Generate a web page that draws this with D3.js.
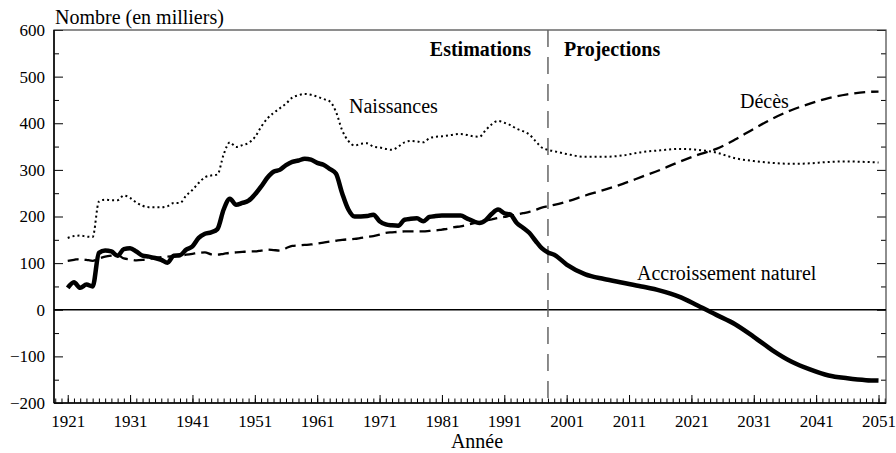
<!DOCTYPE html>
<html>
<head>
<meta charset="utf-8">
<script src="https://cdn.jsdelivr.net/npm/d3@7"></script>
<style>
  body { margin: 0; background: #fff; }
  svg text { font-family: "Liberation Serif", "Times New Roman", serif; fill: #000; }
</style>
</head>
<body>
<div id="chart"></div>
<script>
// Années (annuelles pour les estimations, plus espacées pour les projections)
const years = [
  1921, 1922, 1923, 1924, 1925, 1926, 1927, 1928, 1929, 1930,
  1931, 1932, 1933, 1934, 1935, 1936, 1937, 1938, 1939, 1940,
  1941, 1942, 1943, 1944, 1945, 1946, 1947, 1948, 1949, 1950,
  1951, 1952, 1953, 1954, 1955, 1956, 1957, 1958, 1959, 1960,
  1961, 1962, 1963, 1964, 1965, 1966, 1967, 1968, 1969, 1970,
  1971, 1972, 1973, 1974, 1975, 1976, 1977, 1978, 1979, 1980,
  1981, 1982, 1983, 1984, 1985, 1986, 1987, 1988, 1989, 1990,
  1991, 1992, 1993, 1994, 1995, 1996, 1997, 1998,
  1999, 2001, 2004, 2007, 2010, 2013, 2016, 2019, 2022, 2025,
  2028, 2031, 2034, 2037, 2040, 2043, 2046, 2049, 2051
];

const naissances = [
  154, 158, 159, 157, 156, 232, 236, 235, 235, 245,
  240, 230, 223, 220, 220, 220, 222, 229, 229, 245,
  257, 272, 284, 288, 290, 333, 359, 349, 353, 358,
  370, 392, 410, 422, 432, 442, 455, 460, 463, 461,
  457, 452, 447, 425, 385, 362, 352, 356, 357, 350,
  348, 345, 343, 350, 359, 362, 361, 359, 368, 371,
  372, 374, 376, 377, 375, 372, 371, 385, 398, 405,
  401, 396, 388, 383, 376, 362, 348, 343,
  340, 334, 328, 328, 331, 338, 342, 345, 343, 337,
  325, 319, 315, 313, 314, 317, 318, 317, 316
];

const deces = [
  105, 107, 109, 107, 105, 110, 114, 116, 117, 110,
  108, 106, 107, 109, 111, 113, 114, 115, 116, 118,
  120, 122, 123, 119, 118, 120, 122, 123, 124, 125,
  125, 127, 129, 128, 127, 132, 137, 138, 139, 140,
  142, 144, 146, 148, 150, 151, 152, 154, 156, 158,
  161, 165, 166, 167, 168, 168, 168, 168, 169, 170,
  172, 174, 177, 179, 182, 185, 188, 191, 194, 197,
  199, 202, 204, 207, 210, 214, 219, 222,
  225, 232, 245, 257, 270, 285, 300, 317, 332, 345,
  365, 388, 410, 428, 442, 454, 462, 467, 468
];

const accroissement = [
  47, 59, 47, 54, 50, 122, 127, 125, 116, 130,
  132, 125, 116, 114, 111, 107, 101, 116, 117, 129,
  136, 154, 163, 166, 173, 215, 238, 225, 229, 234,
  247, 264, 283, 296, 300, 310, 317, 320, 324, 322,
  315, 311, 302, 292, 250, 215, 200, 200, 201, 204,
  190, 183, 181, 180, 193, 195, 196, 190, 199, 201,
  202, 202, 202, 202, 196, 190, 186, 192, 206, 215,
  207, 204, 186, 176, 165, 148, 132, 123,
  118, 97, 76, 66, 58, 50, 41, 28, 9, -11,
  -31, -58, -87, -111, -128, -141, -147, -151, -152
];

const xTicks = [1921, 1931, 1941, 1951, 1961, 1971, 1981, 1991, 2001, 2011, 2021, 2031, 2041, 2051];
const yTicks = [-200, -100, 0, 100, 200, 300, 400, 500, 600];
const anneeCharniere = 1998;

const width = 896, height = 453;
const margin = { top: 30, right: 10, bottom: 50, left: 54 };
const plotRight = width - margin.right;
const plotBottom = height - margin.bottom;

const svg = d3.select('#chart').append('svg')
  .attr('width', width)
  .attr('height', height);

const x = d3.scaleLinear().domain([1918.8, 2052.2]).range([margin.left, plotRight]);
const y = d3.scaleLinear().domain([-200, 600]).range([plotBottom, margin.top]);

// Graduations secondaires
const minorY = d3.range(-150, 600, 100);
const allYears = d3.range(1919, 2053);

svg.append('g')
  .attr('transform', `translate(${margin.left},0)`)
  .call(d3.axisLeft(y).tickValues(minorY).tickSize(-5).tickFormat(''))
  .call(g => g.select('.domain').remove());

svg.append('g')
  .attr('transform', `translate(${margin.left},0)`)
  .call(d3.axisLeft(y).tickValues(yTicks).tickSize(-9).tickPadding(9).tickFormat(d3.format('d')))
  .call(g => g.select('.domain').remove())
  .call(g => g.selectAll('text').style('font-size', '17px'));

svg.append('g')
  .attr('transform', `translate(${plotRight},0)`)
  .call(d3.axisRight(y).tickValues(minorY).tickSize(-5).tickFormat(''))
  .call(g => g.select('.domain').remove());

svg.append('g')
  .attr('transform', `translate(${plotRight},0)`)
  .call(d3.axisRight(y).tickValues(yTicks).tickSize(-9).tickFormat(''))
  .call(g => g.select('.domain').remove());

svg.append('g')
  .attr('transform', `translate(0,${plotBottom})`)
  .call(d3.axisBottom(x).tickValues(allYears).tickSize(-4.5).tickFormat(''))
  .call(g => g.select('.domain').remove());

svg.append('g')
  .attr('transform', `translate(0,${plotBottom})`)
  .call(d3.axisBottom(x).tickValues(xTicks).tickSize(-8).tickPadding(12).tickFormat(d3.format('d')))
  .call(g => g.select('.domain').remove())
  .call(g => g.selectAll('text').style('font-size', '17px'));

svg.selectAll('.tick line').style('stroke', '#000').style('stroke-width', 1);

// Cadre
svg.append('rect')
  .attr('x', margin.left).attr('y', margin.top)
  .attr('width', plotRight - margin.left).attr('height', plotBottom - margin.top)
  .style('fill', 'none').style('stroke', '#444').style('stroke-width', 1.2);

svg.append('line')
  .attr('x1', margin.left).attr('x2', margin.left)
  .attr('y1', margin.top).attr('y2', plotBottom)
  .style('stroke', '#000').style('stroke-width', 1.5);

svg.append('line')
  .attr('x1', margin.left).attr('x2', plotRight)
  .attr('y1', plotBottom).attr('y2', plotBottom)
  .style('stroke', '#000').style('stroke-width', 1.5);

// Ligne du zéro
svg.append('line')
  .attr('x1', margin.left).attr('x2', plotRight)
  .attr('y1', y(0)).attr('y2', y(0))
  .style('stroke', '#000').style('stroke-width', 1.3);

// Séparation estimations / projections
svg.append('line')
  .attr('x1', x(anneeCharniere)).attr('x2', x(anneeCharniere))
  .attr('y1', margin.top).attr('y2', plotBottom)
  .style('stroke', '#666').style('stroke-width', 1.5)
  .style('stroke-dasharray', '17,10');

const line = values => d3.line()
  .x((d, i) => x(years[i]))
  .y(d => y(d))
  .curve(d3.curveMonotoneX)(values);

svg.append('path')
  .attr('d', line(naissances))
  .style('fill', 'none').style('stroke', '#000')
  .style('stroke-width', 2).style('stroke-dasharray', '2,3');

svg.append('path')
  .attr('d', line(deces))
  .style('fill', 'none').style('stroke', '#000')
  .style('stroke-width', 2.3).style('stroke-dasharray', '11,6');

svg.append('path')
  .attr('d', line(accroissement))
  .style('fill', 'none').style('stroke', '#000')
  .style('stroke-width', 4.5).style('stroke-linejoin', 'round');

// Libellés
svg.append('text')
  .attr('x', 55).attr('y', 24)
  .style('font-size', '20px')
  .text('Nombre (en milliers)');

svg.append('text')
  .attr('x', 477).attr('y', 448)
  .style('font-size', '20px').style('text-anchor', 'middle')
  .text('Année');

svg.append('text')
  .attr('x', x(anneeCharniere) - 17).attr('y', 56)
  .style('font-size', '20px').style('font-weight', 'bold').style('text-anchor', 'end')
  .text('Estimations');

svg.append('text')
  .attr('x', x(anneeCharniere) + 16).attr('y', 56)
  .style('font-size', '20px').style('font-weight', 'bold')
  .text('Projections');

svg.append('text')
  .attr('x', 349).attr('y', 113)
  .style('font-size', '20px')
  .text('Naissances');

svg.append('text')
  .attr('x', 740).attr('y', 108)
  .style('font-size', '20px')
  .text('Décès');

svg.append('text')
  .attr('x', 637).attr('y', 280)
  .style('font-size', '20px')
  .text('Accroissement naturel');
</script>
</body>
</html>
